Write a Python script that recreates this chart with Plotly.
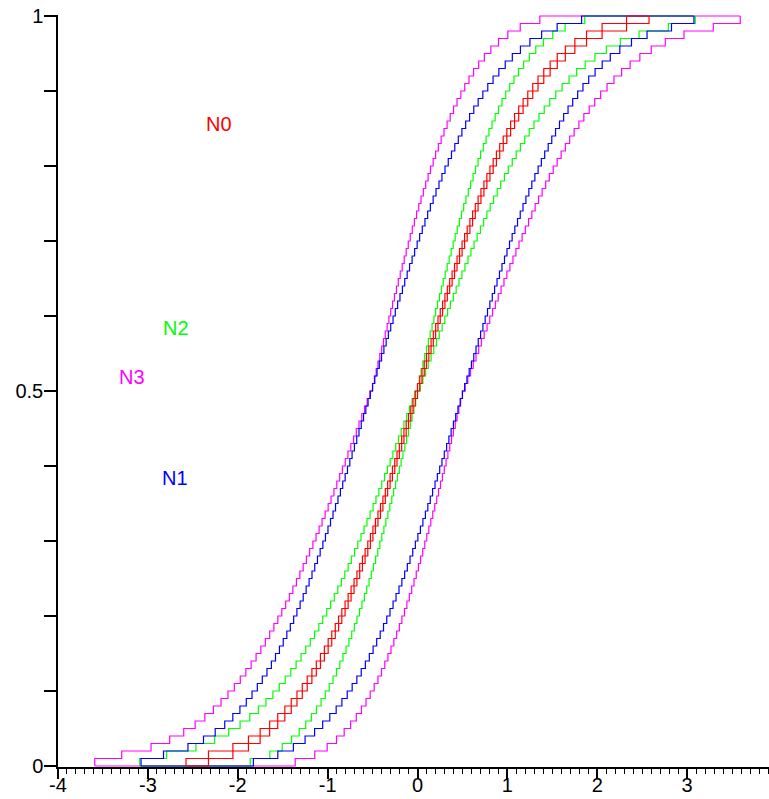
import plotly.graph_objects as go

# probability levels of the step functions (100 steps of 0.01)
levels = [round(0.01 * (k + 1), 2) for k in range(100)]

# N0 (red) lower / upper step positions
n0_left = [-2.576, -2.326, -2.054, -1.881, -1.751, -1.645, -1.555, -1.476, -1.405, -1.341,
           -1.282, -1.227, -1.175, -1.126, -1.080, -1.036, -0.994, -0.954, -0.915, -0.878,
           -0.842, -0.806, -0.772, -0.739, -0.706, -0.674, -0.643, -0.613, -0.583, -0.553,
           -0.524, -0.496, -0.468, -0.440, -0.412, -0.385, -0.358, -0.332, -0.305, -0.279,
           -0.253, -0.228, -0.202, -0.176, -0.151, -0.126, -0.100, -0.075, -0.050, -0.025,
           0.000, 0.025, 0.050, 0.075, 0.100, 0.126, 0.151, 0.176, 0.202, 0.228,
           0.253, 0.279, 0.305, 0.332, 0.358, 0.385, 0.412, 0.440, 0.468, 0.496,
           0.524, 0.553, 0.583, 0.613, 0.643, 0.674, 0.706, 0.739, 0.772, 0.806,
           0.842, 0.878, 0.915, 0.954, 0.994, 1.036, 1.080, 1.126, 1.175, 1.227,
           1.282, 1.341, 1.405, 1.476, 1.555, 1.645, 1.751, 1.881, 2.054, 2.326]
n0_right = [-2.326, -2.054, -1.881, -1.751, -1.645, -1.555, -1.476, -1.405, -1.341, -1.282,
            -1.227, -1.175, -1.126, -1.080, -1.036, -0.994, -0.954, -0.915, -0.878, -0.842,
            -0.806, -0.772, -0.739, -0.706, -0.674, -0.643, -0.613, -0.583, -0.553, -0.524,
            -0.496, -0.468, -0.440, -0.412, -0.385, -0.358, -0.332, -0.305, -0.279, -0.253,
            -0.228, -0.202, -0.176, -0.151, -0.126, -0.100, -0.075, -0.050, -0.025, 0.000,
            0.025, 0.050, 0.075, 0.100, 0.126, 0.151, 0.176, 0.202, 0.228, 0.253,
            0.279, 0.305, 0.332, 0.358, 0.385, 0.412, 0.440, 0.468, 0.496, 0.524,
            0.553, 0.583, 0.613, 0.643, 0.674, 0.706, 0.739, 0.772, 0.806, 0.842,
            0.878, 0.915, 0.954, 0.994, 1.036, 1.080, 1.126, 1.175, 1.227, 1.282,
            1.341, 1.405, 1.476, 1.555, 1.645, 1.751, 1.881, 2.054, 2.326, 2.576]

# N1 (blue)
n1_left = [-3.076, -2.826, -2.554, -2.381, -2.251, -2.145, -2.055, -1.976, -1.905, -1.841,
           -1.782, -1.727, -1.675, -1.626, -1.580, -1.536, -1.494, -1.454, -1.415, -1.378,
           -1.342, -1.306, -1.272, -1.239, -1.206, -1.174, -1.143, -1.113, -1.083, -1.053,
           -1.024, -0.996, -0.968, -0.940, -0.912, -0.885, -0.858, -0.832, -0.805, -0.779,
           -0.753, -0.728, -0.702, -0.676, -0.651, -0.626, -0.600, -0.575, -0.550, -0.525,
           -0.500, -0.475, -0.450, -0.425, -0.400, -0.374, -0.349, -0.324, -0.298, -0.272,
           -0.247, -0.221, -0.195, -0.168, -0.142, -0.115, -0.088, -0.060, -0.032, -0.004,
           0.024, 0.053, 0.083, 0.113, 0.143, 0.174, 0.206, 0.239, 0.272, 0.306,
           0.342, 0.378, 0.415, 0.454, 0.494, 0.536, 0.580, 0.626, 0.675, 0.727,
           0.782, 0.841, 0.905, 0.976, 1.055, 1.145, 1.251, 1.381, 1.554, 1.826]
n1_right = [-1.826, -1.554, -1.381, -1.251, -1.145, -1.055, -0.976, -0.905, -0.841, -0.782,
            -0.727, -0.675, -0.626, -0.580, -0.536, -0.494, -0.454, -0.415, -0.378, -0.342,
            -0.306, -0.272, -0.239, -0.206, -0.174, -0.143, -0.113, -0.083, -0.053, -0.024,
            0.004, 0.032, 0.060, 0.088, 0.115, 0.142, 0.168, 0.195, 0.221, 0.247,
            0.272, 0.298, 0.324, 0.349, 0.374, 0.400, 0.425, 0.450, 0.475, 0.500,
            0.525, 0.550, 0.575, 0.600, 0.626, 0.651, 0.676, 0.702, 0.728, 0.753,
            0.779, 0.805, 0.832, 0.858, 0.885, 0.912, 0.940, 0.968, 0.996, 1.024,
            1.053, 1.083, 1.113, 1.143, 1.174, 1.206, 1.239, 1.272, 1.306, 1.342,
            1.378, 1.415, 1.454, 1.494, 1.536, 1.580, 1.626, 1.675, 1.727, 1.782,
            1.841, 1.905, 1.976, 2.055, 2.145, 2.251, 2.381, 2.554, 2.826, 3.076]

# N2 (green)
n2_left = [-3.091, -2.791, -2.465, -2.257, -2.101, -1.974, -1.866, -1.771, -1.686, -1.609,
           -1.538, -1.472, -1.410, -1.351, -1.296, -1.243, -1.193, -1.145, -1.098, -1.054,
           -1.010, -0.967, -0.926, -0.887, -0.847, -0.809, -0.772, -0.736, -0.700, -0.664,
           -0.629, -0.595, -0.562, -0.528, -0.494, -0.462, -0.430, -0.398, -0.366, -0.335,
           -0.304, -0.274, -0.242, -0.211, -0.181, -0.151, -0.120, -0.090, -0.060, -0.030,
           0.000, 0.020, 0.040, 0.060, 0.080, 0.101, 0.121, 0.141, 0.162, 0.182,
           0.202, 0.223, 0.244, 0.266, 0.286, 0.308, 0.330, 0.352, 0.374, 0.397,
           0.419, 0.442, 0.466, 0.490, 0.514, 0.539, 0.565, 0.591, 0.618, 0.645,
           0.674, 0.702, 0.732, 0.763, 0.795, 0.829, 0.864, 0.901, 0.940, 0.982,
           1.026, 1.073, 1.124, 1.181, 1.244, 1.316, 1.401, 1.505, 1.643, 1.861]
n2_right = [-1.861, -1.643, -1.505, -1.401, -1.316, -1.244, -1.181, -1.124, -1.073, -1.026,
            -0.982, -0.940, -0.901, -0.864, -0.829, -0.795, -0.763, -0.732, -0.702, -0.674,
            -0.645, -0.618, -0.591, -0.565, -0.539, -0.514, -0.490, -0.466, -0.442, -0.419,
            -0.397, -0.374, -0.352, -0.330, -0.308, -0.286, -0.266, -0.244, -0.223, -0.202,
            -0.182, -0.162, -0.141, -0.121, -0.101, -0.080, -0.060, -0.040, -0.020, 0.000,
            0.030, 0.060, 0.090, 0.120, 0.151, 0.181, 0.211, 0.242, 0.274, 0.304,
            0.335, 0.366, 0.398, 0.430, 0.462, 0.494, 0.528, 0.562, 0.595, 0.629,
            0.664, 0.700, 0.736, 0.772, 0.809, 0.847, 0.887, 0.926, 0.967, 1.010,
            1.054, 1.098, 1.145, 1.193, 1.243, 1.296, 1.351, 1.410, 1.472, 1.538,
            1.609, 1.686, 1.771, 1.866, 1.974, 2.101, 2.257, 2.465, 2.791, 3.091]

# N3 (magenta)
n3_left = [-3.591, -3.291, -2.965, -2.757, -2.601, -2.474, -2.366, -2.271, -2.186, -2.109,
           -2.038, -1.972, -1.910, -1.851, -1.796, -1.743, -1.693, -1.645, -1.598, -1.554,
           -1.510, -1.467, -1.426, -1.387, -1.347, -1.309, -1.272, -1.236, -1.200, -1.164,
           -1.129, -1.095, -1.062, -1.028, -0.994, -0.962, -0.930, -0.898, -0.866, -0.835,
           -0.804, -0.774, -0.742, -0.711, -0.681, -0.651, -0.620, -0.590, -0.560, -0.530,
           -0.500, -0.480, -0.460, -0.440, -0.420, -0.399, -0.379, -0.359, -0.338, -0.318,
           -0.298, -0.277, -0.256, -0.234, -0.214, -0.192, -0.170, -0.148, -0.126, -0.103,
           -0.081, -0.058, -0.034, -0.010, 0.014, 0.039, 0.065, 0.091, 0.118, 0.145,
           0.174, 0.202, 0.232, 0.263, 0.295, 0.329, 0.364, 0.401, 0.440, 0.482,
           0.526, 0.573, 0.624, 0.681, 0.744, 0.816, 0.901, 1.005, 1.143, 1.361]
n3_right = [-1.361, -1.143, -1.005, -0.901, -0.816, -0.744, -0.681, -0.624, -0.573, -0.526,
            -0.482, -0.440, -0.401, -0.364, -0.329, -0.295, -0.263, -0.232, -0.202, -0.174,
            -0.145, -0.118, -0.091, -0.065, -0.039, -0.014, 0.010, 0.034, 0.058, 0.081,
            0.103, 0.126, 0.148, 0.170, 0.192, 0.214, 0.234, 0.256, 0.277, 0.298,
            0.318, 0.338, 0.359, 0.379, 0.399, 0.420, 0.440, 0.460, 0.480, 0.500,
            0.530, 0.560, 0.590, 0.620, 0.651, 0.681, 0.711, 0.742, 0.774, 0.804,
            0.835, 0.866, 0.898, 0.930, 0.962, 0.994, 1.028, 1.062, 1.095, 1.129,
            1.164, 1.200, 1.236, 1.272, 1.309, 1.347, 1.387, 1.426, 1.467, 1.510,
            1.554, 1.598, 1.645, 1.693, 1.743, 1.796, 1.851, 1.910, 1.972, 2.038,
            2.109, 2.186, 2.271, 2.366, 2.474, 2.601, 2.757, 2.965, 3.291, 3.591]

band_names = ["N3", "N2", "N1", "N0"]
band_colors = ["#ff00ff", "#00ff00", "#0000ff", "#ff0000"]
band_lefts = [n3_left, n2_left, n1_left, n0_left]
band_rights = [n3_right, n2_right, n1_right, n0_right]

label_names = ["N0", "N2", "N3", "N1"]
label_x = [-2.21, -2.688, -3.178, -2.699]
label_y = [0.856, 0.584, 0.519, 0.384]
label_colors = ["#ff0000", "#00ff00", "#ff00ff", "#0000ff"]

x_tick_vals = [-4, -3, -2, -1, 0, 1, 2, 3]
x_tick_text = ["-4", "-3", "-2", "-1", "0", "1", "2", "3"]
y_tick_vals = [0, 0.1, 0.2, 0.3, 0.4, 0.5, 0.6, 0.7, 0.8, 0.9, 1.0]
y_tick_text = ["0", "", "", "", "", "0.5", "", "", "", "", "1"]

FONT = "Liberation Sans, Arial, Helvetica, sans-serif"

fig = go.Figure()
for name, col, lo, hi in zip(band_names, band_colors, band_lefts, band_rights):
    xl = [lo[0]] + lo + [hi[-1]]
    yl = [0.0] + levels + [1.0]
    xr = [lo[0], hi[0]] + hi
    yr = [0.0, 0.0] + levels
    for xs, ys in ((xl, yl), (xr, yr)):
        fig.add_trace(go.Scatter(x=xs, y=ys, mode="lines", line_shape="hv",
                                 line=dict(color=col, width=1.2),
                                 name=name, showlegend=False, hoverinfo="skip"))

for t, x, y, c in zip(label_names, label_x, label_y, label_colors):
    fig.add_annotation(x=x, y=y, text=t, showarrow=False,
                       font=dict(family=FONT, size=20, color=c),
                       xanchor="center", yanchor="middle")

fig.update_layout(
    width=769, height=799,
    margin=dict(l=58, r=0, t=15, b=32, autoexpand=False),
    paper_bgcolor="white", plot_bgcolor="white",
    showlegend=False,
    font=dict(family=FONT, size=20, color="black"),
)
fig.update_xaxes(
    range=[-4, 3.911], showgrid=False, zeroline=False, automargin=False,
    showline=True, linecolor="black", linewidth=1.5, layer="below traces",
    tickmode="array", tickvals=x_tick_vals, ticktext=x_tick_text,
    ticks="outside", ticklen=10, tickwidth=1.5, tickcolor="black",
    ticklabelstandoff=-11,
    tickfont=dict(family=FONT, size=20, color="black"),
    minor=dict(dtick=0.1, tick0=0, ticks="outside", ticklen=5,
               tickwidth=1.2, tickcolor="black", showgrid=False),
)
fig.update_yaxes(
    range=[-0.0013, 1.0013], showgrid=False, zeroline=False, automargin=False,
    showline=True, linecolor="black", linewidth=1.5, layer="below traces",
    tickmode="array", tickvals=y_tick_vals, ticktext=y_tick_text,
    ticks="outside", ticklen=12, tickwidth=1.5, tickcolor="black",
    ticklabelstandoff=-3,
    tickfont=dict(family=FONT, size=20, color="black"),
)

fig.write_html("out.html")
